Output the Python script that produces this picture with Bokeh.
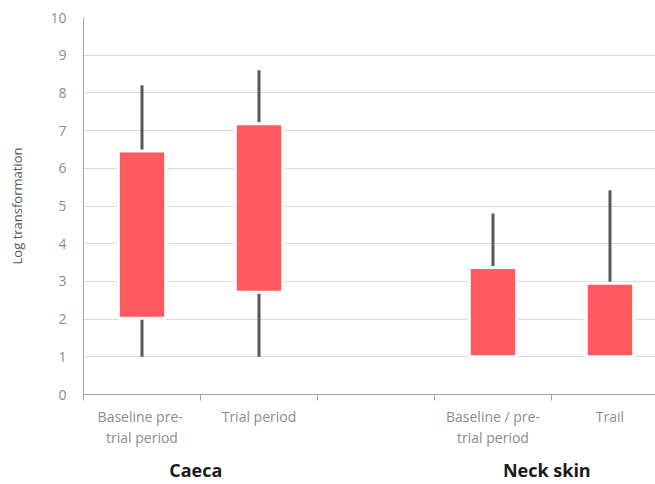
from bokeh.plotting import figure
from bokeh.models import Range1d, FixedTicker, LinearAxis, ColumnDataSource
from bokeh.embed import file_html
from bokeh.resources import INLINE

# ---- data ----
categories = ["Baseline  pre-\ntrial period", "Trial period", "",
              "Baseline / pre-\ntrial period", "Trail"]
groups = ["Caeca", "Caeca", "", "Neck skin", "Neck skin"]
low = [1.0, 1.0, None, 1.0, 1.0]
q1 = [2.02, 2.71, None, 1.0, 1.0]
q3 = [6.46, 7.18, None, 3.37, 2.95]
high = [8.2, 8.6, None, 4.8, 5.42]
y_ticks = [0, 1, 2, 3, 4, 5, 6, 7, 8, 9, 10]

idx = [i for i, c in enumerate(categories) if c]
xs = [i + 0.5 for i in idx]
src = ColumnDataSource(dict(
    x=xs,
    low=[low[i] for i in idx],
    q1=[q1[i] for i in idx],
    q3=[q3[i] for i in idx],
    high=[high[i] for i in idx],
))

FONT = "Open Sans"

p = figure(width=655, height=484, x_range=Range1d(0, 4.889), y_range=Range1d(0, 10),
           output_backend="svg", toolbar_location=None,
           min_border_left=83, min_border_right=0, min_border_top=17, min_border_bottom=90)
p.outline_line_color = None
p.background_fill_color = "white"
p.border_fill_color = "white"

# grid
p.xgrid.visible = False
p.ygrid.ticker = FixedTicker(ticks=y_ticks)
p.ygrid.grid_line_color = "#d9d9d9"
p.ygrid.grid_line_width = 1

# y axis
p.yaxis.ticker = FixedTicker(ticks=y_ticks)
p.yaxis.major_tick_line_color = None
p.yaxis.minor_tick_line_color = None
p.yaxis.axis_line_color = "#a6a6a6"
p.yaxis.major_label_text_font = FONT
p.yaxis.major_label_text_font_size = "14px"
p.yaxis.major_label_text_color = "#8c8c8c"
p.yaxis.major_label_standoff = 11
p.yaxis.axis_label = "Log transformation"
p.yaxis.axis_label_text_font = FONT
p.yaxis.axis_label_text_font_size = "13px"
p.yaxis.axis_label_text_font_style = "normal"
p.yaxis.axis_label_text_color = "#595959"
p.yaxis.axis_label_standoff = 21

# x axis (categories)
centers = [i + 0.5 for i in range(len(categories))]
p.xaxis.ticker = FixedTicker(ticks=centers, minor_ticks=list(range(len(categories))))
p.xaxis.major_label_overrides = {c: lab for c, lab in zip(centers, categories)}
p.xaxis.major_tick_line_color = None
p.xaxis.major_tick_out = 0
p.xaxis.major_tick_in = 0
p.xaxis.minor_tick_line_color = "#a6a6a6"
p.xaxis.minor_tick_out = 6
p.xaxis.minor_tick_in = 0
p.xaxis.axis_line_color = "#a6a6a6"
p.xaxis.major_label_text_font = FONT
p.xaxis.major_label_text_font_size = "14px"
p.xaxis.major_label_text_color = "#8c8c8c"
p.xaxis.major_label_standoff = 6
p.xaxis.major_label_text_line_height = 1.15

# group axis (second row of labels)
seen = []
for g in groups:
    if g and g not in seen:
        seen.append(g)
g_pos = {}
for g in seen:
    members = [i for i, gg in enumerate(groups) if gg == g]
    g_pos[(min(members) + max(members) + 1) / 2.0 - 0.04] = g
gaxis = LinearAxis(ticker=FixedTicker(ticks=list(g_pos.keys())),
                   major_label_overrides=g_pos,
                   axis_line_color=None, major_tick_line_color=None,
                   minor_tick_line_color=None, major_tick_out=0, major_tick_in=0,
                   major_label_standoff=7,
                   major_label_text_font=FONT, major_label_text_font_style="bold",
                   major_label_text_font_size="18px", major_label_text_color="#1a1a1a")
p.add_layout(gaxis, "below")

# whiskers
p.segment(x0="x", y0="q3", x1="x", y1="high", source=src, line_color="#595959", line_width=3)
p.segment(x0="x", y0="low", x1="x", y1="q1", source=src, line_color="#595959", line_width=3)

# boxes
p.vbar(x="x", bottom="q1", top="q3", width=0.405, source=src,
       fill_color="#ff5a60", line_color="white", line_width=3)

open("out.html", "w").write(file_html(p, INLINE))
